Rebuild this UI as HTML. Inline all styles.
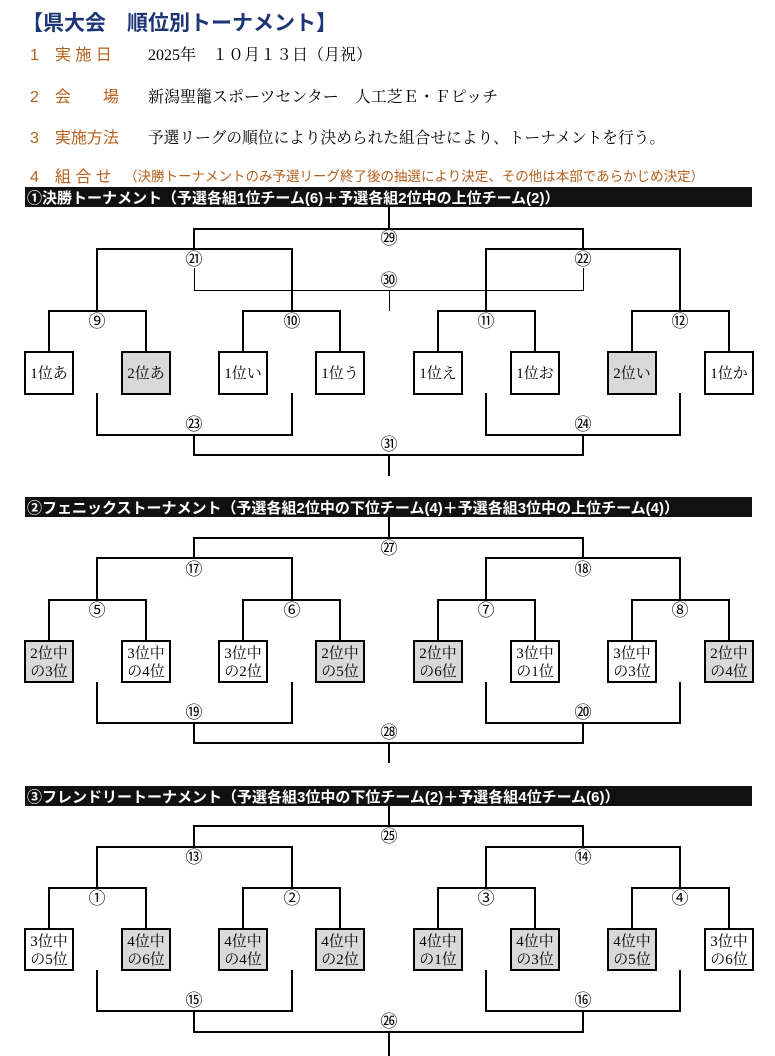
<!DOCTYPE html>
<html><head><meta charset="utf-8"><style>
html,body{margin:0;padding:0;background:#fff;}
svg{display:block;}
.t{font-family:"Liberation Serif","Noto Serif CJK SC","Noto Sans CJK JP",serif;}
.s{font-family:"Liberation Sans","Noto Sans CJK JP",sans-serif;}
.k{fill:none;stroke:#000;stroke-width:2;}
.n{fill:none;stroke:#000;stroke-width:1;}
.lb{font-family:"Liberation Serif","Noto Sans CJK JP",serif;font-size:17px;text-anchor:middle;}
.bx{stroke:#000;stroke-width:2;}
.bt{font-family:"Liberation Serif","Noto Serif CJK JP","Noto Sans CJK JP",serif;font-size:15px;text-anchor:middle;}
.or{fill:#b5601c;}
</style></head><body>
<svg width="775" height="1056" viewBox="0 0 775 1056" xmlns="http://www.w3.org/2000/svg">
<text x="22" y="30" class="s" font-size="21" font-weight="bold" fill="#1c3575">【県大会　順位別トーナメント】</text>
<text x="30" y="60" class="s or" font-size="16">1　実 施 日</text>
<text x="148" y="60" class="t" font-size="16">2025年　１０月１３日（月祝）</text>
<text x="30" y="102" class="s or" font-size="16">2　会　　場</text>
<text x="148" y="102" class="t" font-size="16">新潟聖籠スポーツセンター　人工芝Ｅ・Ｆピッチ</text>
<text x="30" y="143" class="s or" font-size="16">3　実施方法</text>
<text x="148" y="143" class="t" font-size="15.7">予選リーグの順位により決められた組合せにより、トーナメントを行う。</text>
<text x="30" y="182" class="s or" font-size="16">4　組 合 せ</text>
<text x="124" y="181" class="s or" font-size="13.5">（決勝トーナメントのみ予選リーグ終了後の抽選により決定、その他は本部であらかじめ決定）</text>

<rect x="25" y="187" width="727" height="20" fill="#111"/>
<text x="27" y="203" class="s" font-size="15" font-weight="bold" fill="#fff">①決勝トーナメント（予選各組1位チーム(6)＋予選各組2位中の上位チーム(2)）</text>
<rect x="25" y="497" width="727" height="20" fill="#111"/>
<text x="27" y="513" class="s" font-size="15" font-weight="bold" fill="#fff">②フェニックストーナメント（予選各組2位中の下位チーム(4)＋予選各組3位中の上位チーム(4)）</text>
<rect x="25" y="786" width="727" height="20" fill="#111"/>
<text x="27" y="802" class="s" font-size="15" font-weight="bold" fill="#fff">③フレンドリートーナメント（予選各組3位中の下位チーム(2)＋予選各組4位チーム(6)）</text>

<path class="k" d="M389,207V229M194,249V229H583V249M97,311V249H292V311M486,311V249H680V311M49,352V311H146V352M243,352V311H340V352M438,352V311H535V352M632,352V311H729V352M97,393V435H292V393M486,393V435H680V393M194,435V455H583V435M389,455V476"/>
<path class="n" d="M194.5,268V290.5H583.5V268M389.5,290.5V311"/>
<g class="lb">
<text x="389" y="244">㉙</text><text x="194" y="265">㉑</text><text x="583" y="265">㉒</text><text x="389" y="286">㉚</text>
<text x="97" y="327">⑨</text><text x="292" y="327">⑩</text><text x="486" y="327">⑪</text><text x="680" y="327">⑫</text>
<text x="194" y="430">㉓</text><text x="583" y="430">㉔</text><text x="389" y="450">㉛</text>
</g>
<g>
<rect class="bx" x="25" y="352" width="48" height="42" fill="#fff"/>
<rect class="bx" x="122" y="352" width="48" height="42" fill="#d9d9d9"/>
<rect class="bx" x="219" y="352" width="48" height="42" fill="#fff"/>
<rect class="bx" x="316" y="352" width="48" height="42" fill="#fff"/>
<rect class="bx" x="414" y="352" width="48" height="42" fill="#fff"/>
<rect class="bx" x="511" y="352" width="48" height="42" fill="#fff"/>
<rect class="bx" x="608" y="352" width="48" height="42" fill="#d9d9d9"/>
<rect class="bx" x="705" y="352" width="48" height="42" fill="#fff"/>
</g>
<g class="bt">
<text x="49" y="378">1位あ</text><text x="146" y="378">2位あ</text><text x="243" y="378">1位い</text><text x="340" y="378">1位う</text>
<text x="438" y="378">1位え</text><text x="535" y="378">1位お</text><text x="632" y="378">2位い</text><text x="729" y="378">1位か</text>
</g>

<path class="k" d="M389,517V538M194,558V538H583V558M97,600V558H292V600M486,600V558H680V600M49,641V600H146V641M243,641V600H340V641M438,641V600H535V641M632,641V600H729V641M97,682V723H292V682M486,682V723H680V682M194,723V743H583V723M389,743V763"/>
<g class="lb">
<text x="389" y="554">㉗</text><text x="194" y="575">⑰</text><text x="583" y="575">⑱</text>
<text x="97" y="616">⑤</text><text x="292" y="616">⑥</text><text x="486" y="616">⑦</text><text x="680" y="616">⑧</text>
<text x="194" y="718">⑲</text><text x="583" y="718">⑳</text><text x="389" y="738">㉘</text>
</g>
<g>
<rect class="bx" x="25" y="641" width="48" height="41" fill="#d9d9d9"/>
<rect class="bx" x="122" y="641" width="48" height="41" fill="#fff"/>
<rect class="bx" x="219" y="641" width="48" height="41" fill="#fff"/>
<rect class="bx" x="316" y="641" width="48" height="41" fill="#d9d9d9"/>
<rect class="bx" x="414" y="641" width="48" height="41" fill="#d9d9d9"/>
<rect class="bx" x="511" y="641" width="48" height="41" fill="#fff"/>
<rect class="bx" x="608" y="641" width="48" height="41" fill="#fff"/>
<rect class="bx" x="705" y="641" width="48" height="41" fill="#d9d9d9"/>
</g>
<g class="bt">
<text x="49" y="658">2位中</text><text x="49" y="676">の3位</text>
<text x="146" y="658">3位中</text><text x="146" y="676">の4位</text>
<text x="243" y="658">3位中</text><text x="243" y="676">の2位</text>
<text x="340" y="658">2位中</text><text x="340" y="676">の5位</text>
<text x="438" y="658">2位中</text><text x="438" y="676">の6位</text>
<text x="535" y="658">3位中</text><text x="535" y="676">の1位</text>
<text x="632" y="658">3位中</text><text x="632" y="676">の3位</text>
<text x="729" y="658">2位中</text><text x="729" y="676">の4位</text>
</g>

<path class="k" d="M389,806V826M194,847V826H583V847M97,888V847H292V888M486,888V847H680V888M49,929V888H146V929M243,929V888H340V929M438,929V888H535V929M632,929V888H729V929M97,970V1011H292V970M486,970V1011H680V970M194,1011V1032H583V1011M389,1032V1056"/>
<g class="lb">
<text x="389" y="842">㉕</text><text x="194" y="863">⑬</text><text x="583" y="863">⑭</text>
<text x="97" y="904">①</text><text x="292" y="904">②</text><text x="486" y="904">③</text><text x="680" y="904">④</text>
<text x="194" y="1006">⑮</text><text x="583" y="1006">⑯</text><text x="389" y="1027">㉖</text>
</g>
<g>
<rect class="bx" x="25" y="929" width="48" height="41" fill="#fff"/>
<rect class="bx" x="122" y="929" width="48" height="41" fill="#d9d9d9"/>
<rect class="bx" x="219" y="929" width="48" height="41" fill="#d9d9d9"/>
<rect class="bx" x="316" y="929" width="48" height="41" fill="#d9d9d9"/>
<rect class="bx" x="414" y="929" width="48" height="41" fill="#d9d9d9"/>
<rect class="bx" x="511" y="929" width="48" height="41" fill="#d9d9d9"/>
<rect class="bx" x="608" y="929" width="48" height="41" fill="#d9d9d9"/>
<rect class="bx" x="705" y="929" width="48" height="41" fill="#fff"/>
</g>
<g class="bt">
<text x="49" y="946">3位中</text><text x="49" y="964">の5位</text>
<text x="146" y="946">4位中</text><text x="146" y="964">の6位</text>
<text x="243" y="946">4位中</text><text x="243" y="964">の4位</text>
<text x="340" y="946">4位中</text><text x="340" y="964">の2位</text>
<text x="438" y="946">4位中</text><text x="438" y="964">の1位</text>
<text x="535" y="946">4位中</text><text x="535" y="964">の3位</text>
<text x="632" y="946">4位中</text><text x="632" y="964">の5位</text>
<text x="729" y="946">3位中</text><text x="729" y="964">の6位</text>
</g>
</svg>
</body></html>
